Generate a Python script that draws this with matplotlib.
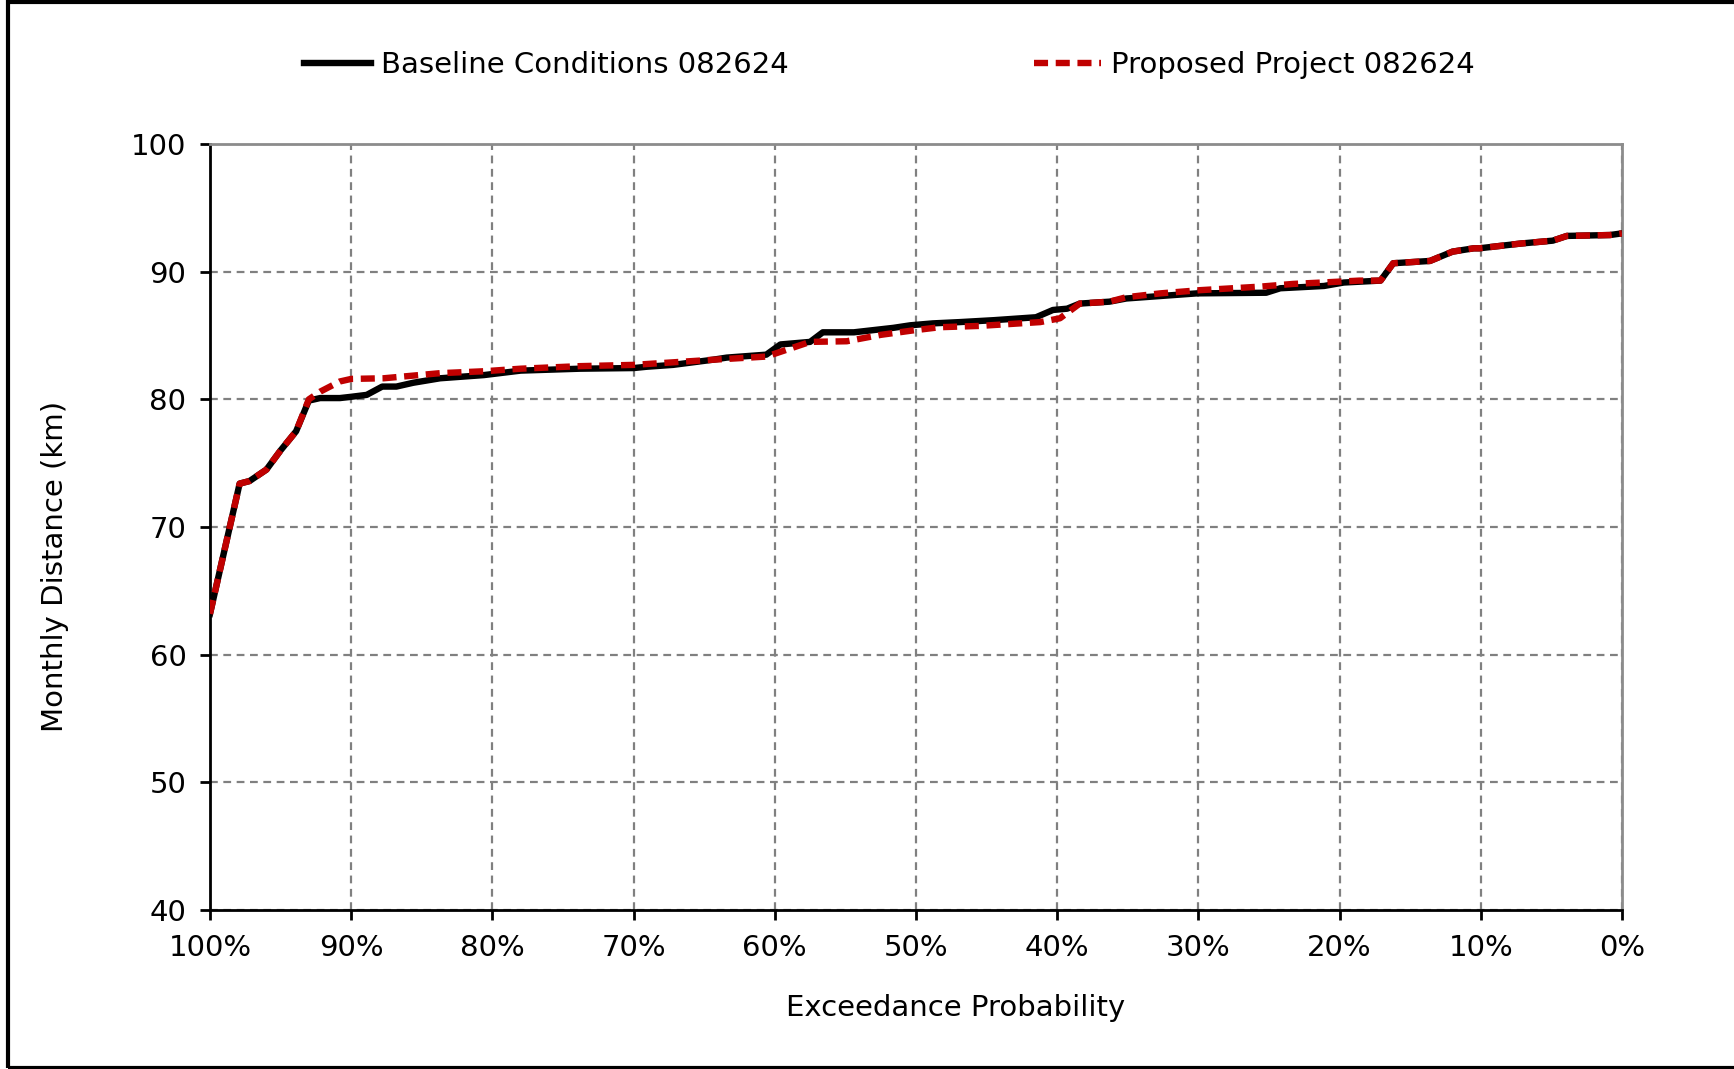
import matplotlib
matplotlib.use('Agg')
import matplotlib.pyplot as plt
from matplotlib.ticker import PercentFormatter
from matplotlib.patches import Rectangle

# Exceedance curves (exceedance %, monthly distance km)
baseline_x = [100, 97.9, 97.2, 96.0, 95.0, 93.9, 93.0, 92.2, 90.8, 90.0, 88.9, 87.8,
              86.8, 85.6, 83.7, 80.6, 78.0, 73.8, 70.0, 69.1, 67.2, 64.4, 63.4, 60.6,
              59.6, 57.5, 56.6, 54.4, 51.6, 50.4, 48.8, 46.9, 44.5, 41.5, 40.3, 39.3,
              38.4, 36.3, 35.1, 30.1, 25.2, 24.2, 21.1, 19.7, 17.1, 16.2, 13.6, 12.0,
              10.5, 10.1, 7.2, 4.9, 3.9, 0.85, 0]
baseline_y = [63.2, 73.4, 73.6, 74.5, 76.0, 77.5, 79.9, 80.1, 80.1, 80.2, 80.35, 81.0,
              81.0, 81.3, 81.65, 81.9, 82.25, 82.4, 82.45, 82.55, 82.7, 83.1, 83.27, 83.5,
              84.3, 84.5, 85.25, 85.25, 85.6, 85.8, 85.95, 86.05, 86.2, 86.43, 87.0, 87.1,
              87.5, 87.65, 87.9, 88.3, 88.35, 88.7, 88.88, 89.15, 89.3, 90.66, 90.84, 91.57,
              91.83, 91.83, 92.2, 92.43, 92.8, 92.87, 93.0]

proposed_x = [100, 97.9, 97.2, 96.0, 95.0, 93.9, 93.0, 92.2, 90.8, 90.0, 87.7, 83.7,
              80.6, 78.0, 73.8, 70.0, 64.4, 60.6, 57.5, 54.9, 52.5, 50.2, 48.3, 45.5,
              41.2, 39.8, 38.4, 36.3, 35.1, 32.7, 29.9, 25.6, 23.3, 20.9, 18.6, 17.1,
              16.2, 13.6, 12.0, 10.5, 10.1, 7.2, 4.9, 3.9, 0.85, 0]
proposed_y = [63.2, 73.4, 73.6, 74.5, 76.0, 77.5, 80.0, 80.6, 81.4, 81.6, 81.65, 82.05,
              82.2, 82.4, 82.6, 82.7, 83.1, 83.35, 84.5, 84.55, 85.05, 85.4, 85.65, 85.75,
              86.05, 86.35, 87.5, 87.65, 88.0, 88.3, 88.55, 88.83, 89.04, 89.17, 89.3, 89.3,
              90.66, 90.84, 91.57, 91.83, 91.83, 92.2, 92.43, 92.8, 92.87, 93.0]

x_ticks = [100, 90, 80, 70, 60, 50, 40, 30, 20, 10, 0]
y_ticks = [40, 50, 60, 70, 80, 90, 100]

plt.rcParams['font.family'] = 'DejaVu Sans'
plt.rcParams['font.size'] = 21

fig = plt.figure(figsize=(17.34, 10.69), dpi=100)
ax = fig.add_axes([0.1211, 0.1487, 0.8143, 0.7166])

ax.plot(baseline_x, baseline_y, color='black', lw=4.6, label='Baseline Conditions 082624',
        solid_joinstyle='round', zorder=3)
ax.plot(proposed_x, proposed_y, color='#C00000', lw=4.6, linestyle=(0, (2.2, 1.2)),
        label='Proposed Project 082624', zorder=4)

ax.set_xlim(100, 0)
ax.set_ylim(40, 100)
ax.set_xticks(x_ticks)
ax.set_yticks(y_ticks)
ax.xaxis.set_major_formatter(PercentFormatter(xmax=100, decimals=0))
ax.grid(True, color='#808080', lw=1.6, linestyle=(0, (3.5, 2.5)))
ax.set_axisbelow(True)

for side in ['top', 'right']:
    ax.spines[side].set_color('#8c8c8c')
    ax.spines[side].set_linewidth(2)
for side in ['left', 'bottom']:
    ax.spines[side].set_color('black')
    ax.spines[side].set_linewidth(2)
ax.tick_params(direction='out', length=7, width=2, pad=10, labelsize=21)

ax.set_xlabel('Exceedance Probability', fontsize=21)
ax.set_ylabel('Monthly Distance (km)', fontsize=21)
ax.xaxis.set_label_coords(0.528, -0.109)
ax.yaxis.set_label_coords(-0.100, 0.449)

fig.legend(loc='center', bbox_to_anchor=(0.513, 0.939), ncol=2, frameon=False,
           handlelength=2.3, handletextpad=0.35, columnspacing=8.4, fontsize=21)

# outer frame around the whole chart
fig.patches.append(Rectangle((8 / 1734, 1 / 1069), 1.2, 1 - 3 / 1069, transform=fig.transFigure,
                             fill=False, edgecolor='black', lw=3, zorder=10))

fig.savefig('out.png', dpi=100)
